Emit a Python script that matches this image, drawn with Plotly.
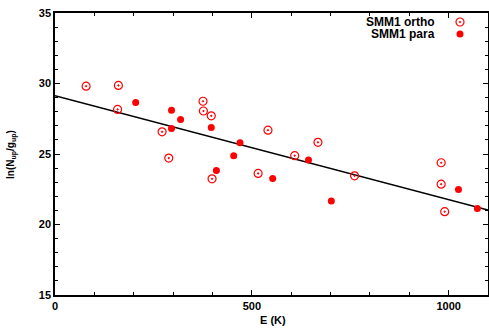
import plotly.graph_objects as go

# Data
ortho_E = [79, 161, 159, 272, 289, 376, 377, 397, 399, 516, 541, 609, 668, 761, 981, 981, 990]
ortho_y = [29.81, 29.86, 28.16, 26.57, 24.71, 28.74, 28.05, 27.71, 23.24, 23.62, 26.69, 24.88, 25.83, 23.45, 24.38, 22.86, 20.91]

para_E = [205, 296, 296, 319, 397, 410, 454, 470, 553, 644, 702, 1025, 1073]
para_y = [28.66, 28.10, 26.80, 27.45, 26.88, 23.83, 24.88, 25.79, 23.26, 24.57, 21.67, 22.48, 21.14]

fit_intercept = 29.14
fit_slope = -0.00738
fit_E = [0, 1100]
fit_y = [fit_intercept + fit_slope * e for e in fit_E]

legend_labels = ["SMM1 ortho", "SMM1 para"]

FONT = "Liberation Sans"
RED = "#ff0000"

# plot area in pixels
L, R, T, B = 55, 488, 13, 295
W, H = R - L, B - T


def px(x):
    return (x - L) / W


def py(y):
    return (B - y) / H


fig = go.Figure()
fig.add_trace(go.Scatter(x=fit_E, y=fit_y, mode="lines",
                         line=dict(color="black", width=1.5), showlegend=False,
                         hoverinfo="skip"))
fig.add_trace(go.Scatter(x=ortho_E, y=ortho_y, mode="markers", name=" ", legend="legend",
                         marker=dict(symbol="circle-open-dot", size=8, color=RED,
                                     line=dict(width=1.2, color=RED))))
fig.add_trace(go.Scatter(x=para_E, y=para_y, mode="markers", name=" ", legend="legend2",
                         marker=dict(symbol="circle", size=7, color=RED)))

axis_common = dict(showgrid=False, zeroline=False, showline=True, linecolor="black",
                   linewidth=1.5, mirror="ticks", ticks="inside", ticklen=5,
                   tickcolor="black", tickwidth=1, automargin=False,
                   tickfont=dict(family=FONT, size=11, color="black", weight="bold"))

fig.update_xaxes(range=[0, 1100], tick0=0, dtick=500,
                 minor=dict(dtick=100, ticks="inside", ticklen=3, tickcolor="black"),
                 **axis_common)
fig.update_yaxes(range=[15, 35], tick0=15, dtick=5,
                 minor=dict(dtick=1, ticks="inside", ticklen=3, tickcolor="black"),
                 **axis_common)

# axis titles
fig.add_annotation(xref="paper", yref="paper", x=px(273), y=py(320),
                   xanchor="center", yanchor="middle", showarrow=False,
                   text="<b>E (K)</b>", font=dict(family=FONT, size=11, color="black"))
fig.add_annotation(xref="paper", yref="paper", x=px(11), y=py(155),
                   xanchor="center", yanchor="middle", showarrow=False, textangle=-90,
                   text="<b>ln(N<sub>up</sub>/g<sub>up</sub>)</b>",
                   font=dict(family=FONT, size=10, color="black"))

# legend texts (gnuplot style: text left of the sample)
for i, lab in enumerate(legend_labels):
    fig.add_annotation(xref="paper", yref="paper", x=px(437),
                       y=py(22 + 12 * i), xanchor="right", yanchor="middle",
                       text="<b>" + lab + "</b>", showarrow=False,
                       font=dict(family=FONT, size=12, color="black"))

leg_common = dict(xanchor="left", yanchor="middle", bgcolor="rgba(0,0,0,0)",
                  itemwidth=30, font=dict(family=FONT, size=10))
fig.update_layout(
    width=489, height=328,
    margin=dict(l=L, r=489 - R, t=T, b=328 - B),
    plot_bgcolor="white", paper_bgcolor="white",
    legend=dict(x=px(440), y=py(22), **leg_common),
    legend2=dict(x=px(440), y=py(34), **leg_common),
    showlegend=True,
)

fig.write_html("out.html", config={"displayModeBar": False},
               post_script="document.body.style.margin='0';document.body.style.overflow='hidden';")
